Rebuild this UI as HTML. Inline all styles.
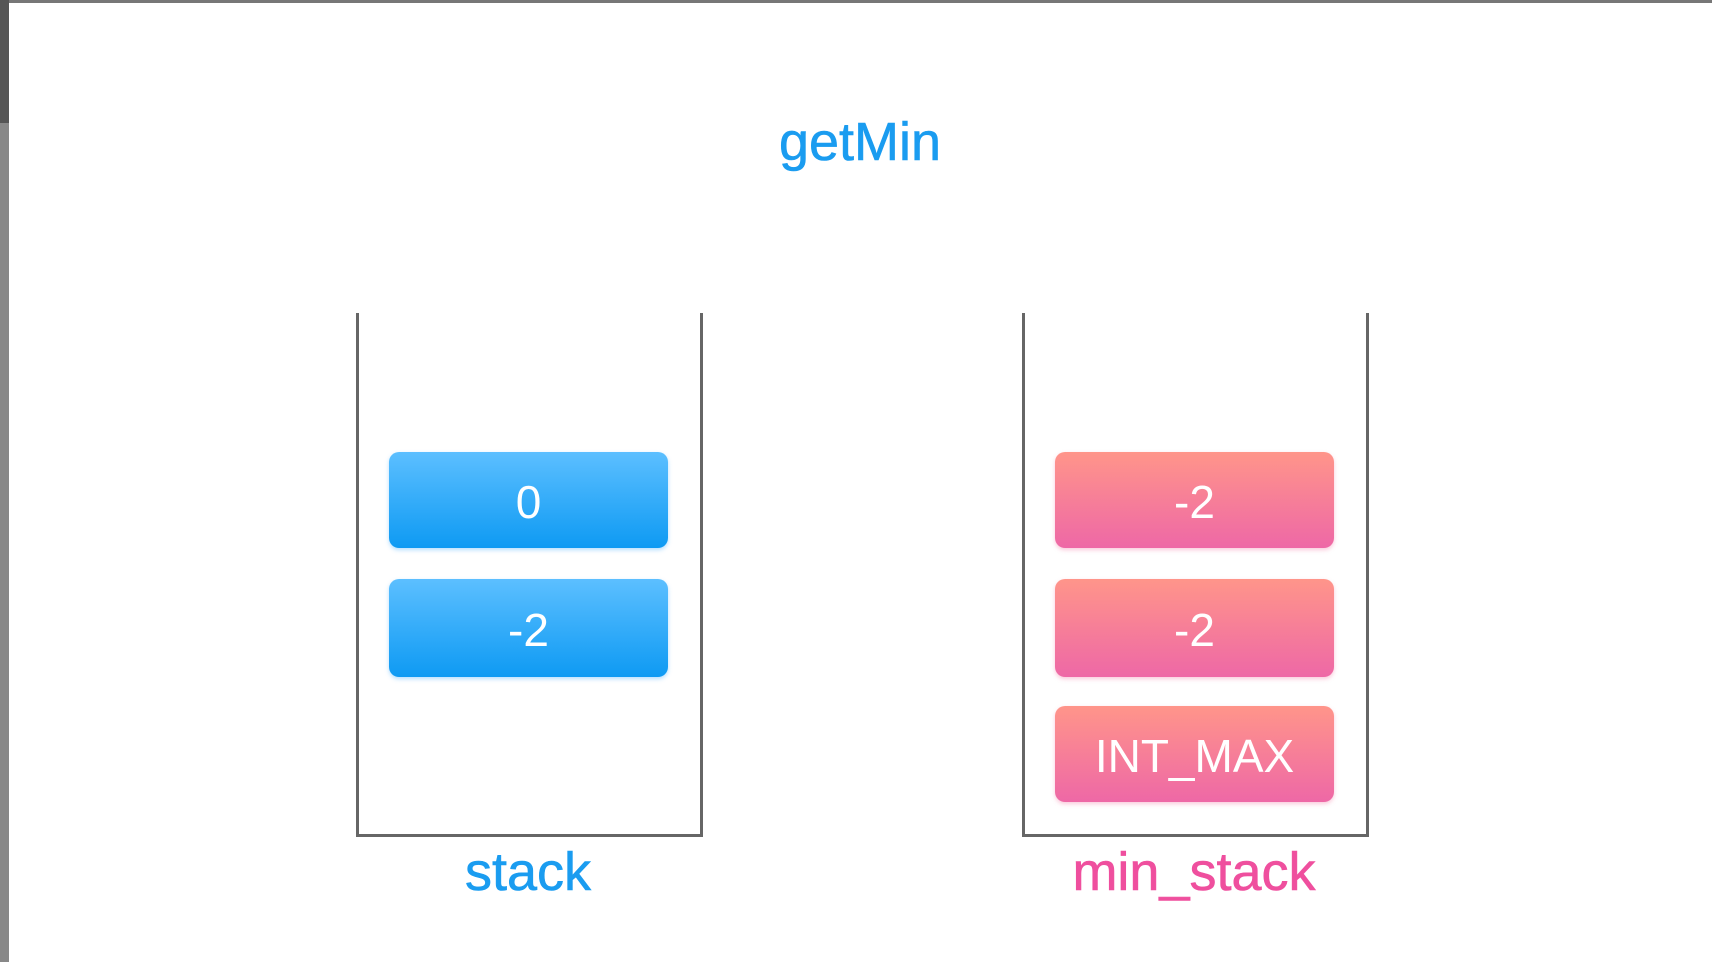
<!DOCTYPE html>
<html><head><meta charset="utf-8"><style>
html,body{margin:0;padding:0;}
body{width:1712px;height:962px;position:relative;background:#fff;overflow:hidden;font-family:"Liberation Sans",sans-serif;}
.abs{position:absolute;}
.wall{position:absolute;background:#666;}
.box{position:absolute;border-radius:10px;color:#fff;font-size:46px;display:flex;align-items:center;justify-content:center;padding-top:4px;box-sizing:border-box;}
.blue{background:linear-gradient(#5cbfff,#0e9af3);box-shadow:0 2px 4px rgba(40,160,255,0.35);}
.pink{background:linear-gradient(#ff958a,#ee68a6);box-shadow:0 2px 4px rgba(240,100,150,0.35);}
.lbl{position:absolute;font-size:54px;text-align:center;width:400px;-webkit-text-stroke:0.6px currentColor;}
</style></head><body>
<div class="abs" style="left:0;top:0;width:1712px;height:3px;background:#777"></div>
<div class="abs" style="left:0;top:0;width:9px;height:123px;background:#555"></div>
<div class="abs" style="left:0;top:123px;width:9px;height:839px;background:#888"></div>

<div class="lbl" style="left:660px;top:111px;color:#1a9cf0">getMin</div>

<div class="wall" style="left:356px;top:313px;width:3px;height:524px"></div>
<div class="wall" style="left:700px;top:313px;width:3px;height:524px"></div>
<div class="wall" style="left:356px;top:834px;width:347px;height:3px"></div>

<div class="wall" style="left:1022px;top:313px;width:3px;height:524px"></div>
<div class="wall" style="left:1366px;top:313px;width:3px;height:524px"></div>
<div class="wall" style="left:1022px;top:834px;width:347px;height:3px"></div>

<div class="box blue" style="left:389px;top:452px;width:279px;height:96px">0</div>
<div class="box blue" style="left:389px;top:579px;width:279px;height:98px">-2</div>

<div class="box pink" style="left:1055px;top:452px;width:279px;height:96px">-2</div>
<div class="box pink" style="left:1055px;top:579px;width:279px;height:98px">-2</div>
<div class="box pink" style="left:1055px;top:706px;width:279px;height:96px">INT_MAX</div>

<div class="lbl" style="left:328px;top:841px;color:#1a9cf0">stack</div>
<div class="lbl" style="left:994px;top:841px;color:#ef4f9e">min_stack</div>
</body></html>
